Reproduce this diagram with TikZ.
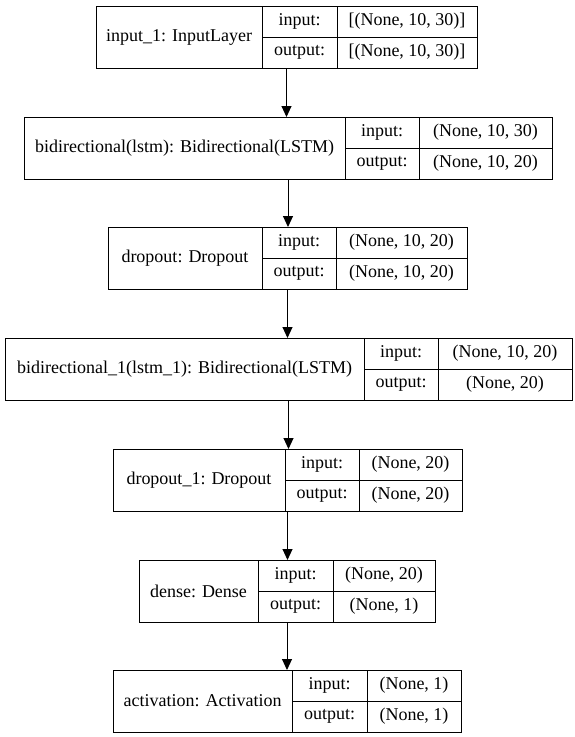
\documentclass[tikz,border=0pt]{standalone}
\usepackage{fontspec}
\setmainfont{Liberation Serif}
\usetikzlibrary{arrows.meta, fit}

\begin{document}
\begin{tikzpicture}[x=1pt, y=-1pt, line width=1pt,
  cell/.style={draw, rectangle, inner sep=0pt, outer sep=0pt, anchor=north west,
    font=\rmfamily\fontsize{18}{21}\selectfont},
  arr/.style={-{Triangle[length=11pt, width=10pt]}}]
  % 画布
  \useasboundingbox (0,0) rectangle (575,737);
  % 层框: 名称, x, y, 宽1, 宽2, 宽3, 标题, 输入, 输出
  \def\layer#1#2#3#4#5#6#7#8#9{
    \node[cell, minimum width=#4pt, minimum height=62pt] (#1) at (#2,#3) {#7};
    \node[cell, minimum width=#5pt, minimum height=31pt] (#1i) at (#1.north east) {input:};
    \node[cell, minimum width=#6pt, minimum height=31pt] (#1iv) at (#1i.north east) {#8};
    \node[cell, minimum width=#5pt, minimum height=31pt] (#1o) at (#1i.south west) {output:};
    \node[cell, minimum width=#6pt, minimum height=31pt] (#1ov) at (#1iv.south west) {#9};
    \node[fit=(#1) (#1iv) (#1ov), inner sep=0pt, outer sep=0pt] (#1box) {};
  }
  % 各层
  \layer{L1}{96}{6}{166}{75}{140}{input\_1: InputLayer}{[(None, 10, 30)]}{[(None, 10, 30)]}
  \layer{L2}{24}{117}{321}{74}{133}{bidirectional(lstm): Bidirectional(LSTM)}{(None, 10, 30)}{(None, 10, 20)}
  \layer{L3}{108}{227}{154}{74}{131}{dropout: Dropout}{(None, 10, 20)}{(None, 10, 20)}
  \layer{L4}{5}{338}{359}{74}{134}{bidirectional\_1(lstm\_1): Bidirectional(LSTM)}{(None, 10, 20)}{(None, 20)}
  \layer{L5}{113}{449}{172}{74}{103}{dropout\_1: Dropout}{(None, 20)}{(None, 20)}
  \layer{L6}{139}{560}{119}{75}{102}{dense: Dense}{(None, 20)}{(None, 1)}
  \layer{L7}{113}{670}{179}{75}{94}{activation: Activation}{(None, 1)}{(None, 1)}
  % 箭头
  \foreach \a/\b in {L1/L2, L2/L3, L3/L4, L4/L5, L5/L6, L6/L7}
    \draw[arr] (\a box.south) -- (\a box.south |- \b box.north);
\end{tikzpicture}
\end{document}
